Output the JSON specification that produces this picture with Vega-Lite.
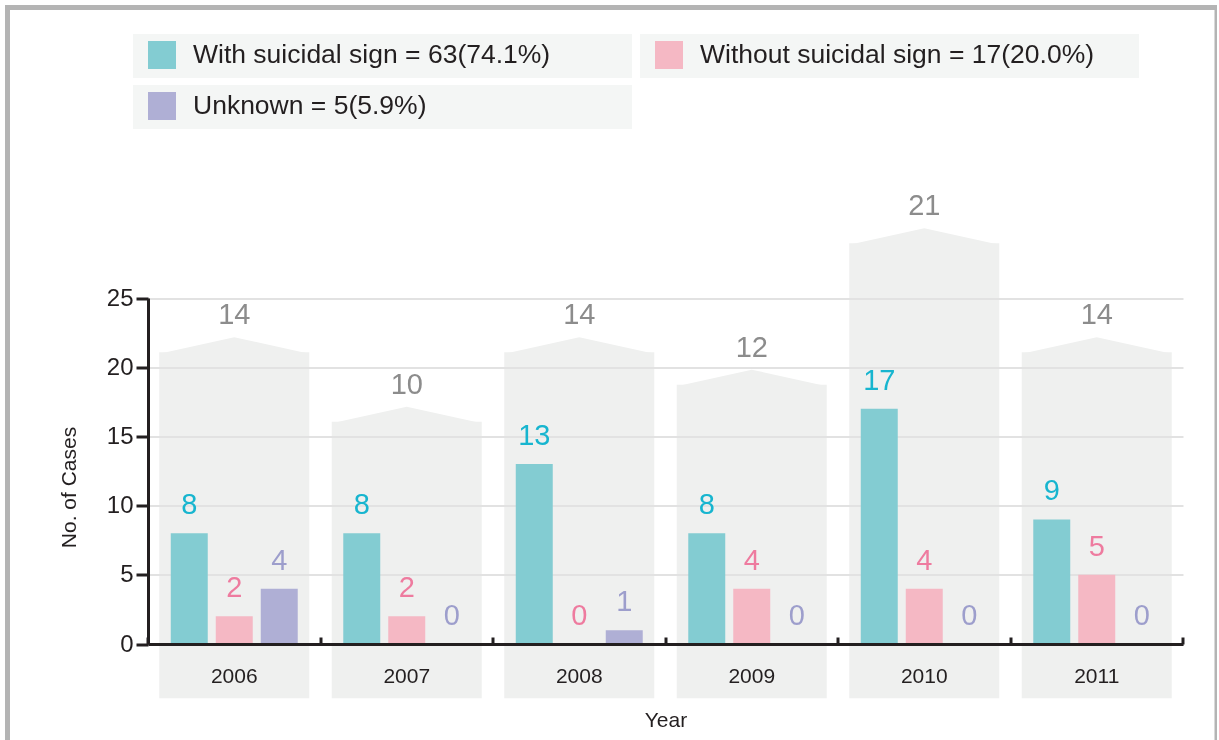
{
  "$schema": "https://vega.github.io/schema/vega-lite/v6.json",
  "width": 1209.5,
  "height": 740,
  "autosize": {"type": "none"},
  "padding": {"left": 7.5, "top": 7.5, "right": 0, "bottom": 0},
  "background": "white",
  "config": {
    "view": {"stroke": "#b4b4b4", "strokeWidth": 5, "fill": "white"},
    "font": "Liberation Sans"
  },
  "datasets": {
    "years": [
      {"year": "2006", "total": 14, "house": 21.08},
      {"year": "2007", "total": 10, "house": 16.06},
      {"year": "2008", "total": 14, "house": 21.08},
      {"year": "2009", "total": 12, "house": 18.74},
      {"year": "2010", "total": 21, "house": 28.95},
      {"year": "2011", "total": 14, "house": 21.08}
    ],
    "cases": [
      {"year": "2006", "sign": "With suicidal sign = 63(74.1%)", "count": 8},
      {"year": "2006", "sign": "Without suicidal sign = 17(20.0%)", "count": 2},
      {"year": "2006", "sign": "Unknown = 5(5.9%)", "count": 4},
      {"year": "2007", "sign": "With suicidal sign = 63(74.1%)", "count": 8},
      {"year": "2007", "sign": "Without suicidal sign = 17(20.0%)", "count": 2},
      {"year": "2007", "sign": "Unknown = 5(5.9%)", "count": 0},
      {"year": "2008", "sign": "With suicidal sign = 63(74.1%)", "count": 13},
      {"year": "2008", "sign": "Without suicidal sign = 17(20.0%)", "count": 0},
      {"year": "2008", "sign": "Unknown = 5(5.9%)", "count": 1},
      {"year": "2009", "sign": "With suicidal sign = 63(74.1%)", "count": 8},
      {"year": "2009", "sign": "Without suicidal sign = 17(20.0%)", "count": 4},
      {"year": "2009", "sign": "Unknown = 5(5.9%)", "count": 0},
      {"year": "2010", "sign": "With suicidal sign = 63(74.1%)", "count": 17},
      {"year": "2010", "sign": "Without suicidal sign = 17(20.0%)", "count": 4},
      {"year": "2010", "sign": "Unknown = 5(5.9%)", "count": 0},
      {"year": "2011", "sign": "With suicidal sign = 63(74.1%)", "count": 9},
      {"year": "2011", "sign": "Without suicidal sign = 17(20.0%)", "count": 5},
      {"year": "2011", "sign": "Unknown = 5(5.9%)", "count": 0}
    ]
  },
  "layer": [
    {
      "data": {"name": "years"},
      "mark": {"type": "bar", "color": "#eff0ef", "width": {"band": 0.8696}, "blend": "darken"},
      "encoding": {
        "x": {
          "field": "year",
          "type": "nominal",
          "scale": {"paddingInner": 0, "paddingOuter": 0, "range": [140.5, 1175.5]},
          "axis": {
            "title": "Year",
            "titleFontSize": 21,
            "titleFontWeight": "normal",
            "titleColor": "#231f20",
            "titleY": 82,
            "titleBaseline": "alphabetic",
            "labelFontSize": 21,
            "labelColor": "#231f20",
            "labelAngle": 0,
            "labelBaseline": "alphabetic",
            "labelPadding": 45,
            "bandPosition": 1,
            "tickExtra": true,
            "tickSize": -7,
            "tickWidth": 3,
            "tickColor": "#231f20",
            "domainColor": "#231f20",
            "domainWidth": 3,
            "grid": false,
            "offset": -103.5,
            "zindex": 1
          }
        },
        "y": {
          "field": "house",
          "type": "quantitative",
          "scale": {"domain": [0, 25], "nice": false, "zero": false, "range": [636.5, 290.5]},
          "axis": {
            "title": "No. of Cases",
            "titleFontSize": 21,
            "titleFontWeight": "normal",
            "titleColor": "#231f20",
            "titleX": -73,
            "titleY": 479.5,
            "titleBaseline": "alphabetic",
            "values": [0, 5, 10, 15, 20, 25],
            "labelFontSize": 24,
            "labelColor": "#231f20",
            "labelPadding": 3,
            "tickSize": 12,
            "tickWidth": 3,
            "tickColor": "#231f20",
            "domainColor": "#231f20",
            "domainWidth": 3,
            "grid": true,
            "gridColor": "#d9d9d9",
            "gridWidth": 1.5,
            "offset": -140.5,
            "zindex": 0
          }
        },
        "y2": {"datum": -3.92}
      }
    },
    {
      "data": {"name": "years"},
      "mark": {"type": "point", "shape": "M-1,0.02L0,-0.2L1,0.02Z", "size": 22500, "filled": true, "color": "#eff0ef", "opacity": 1, "strokeWidth": 0, "blend": "darken"},
      "encoding": {
        "x": {"field": "year", "type": "nominal"},
        "y": {"field": "house", "type": "quantitative"}
      }
    },
    {
      "data": {"name": "years"},
      "mark": {"type": "text", "fontSize": 29, "color": "#8c8c8c", "baseline": "alphabetic", "dy": -28},
      "encoding": {
        "x": {"field": "year", "type": "nominal"},
        "y": {"field": "house", "type": "quantitative"},
        "text": {"field": "total"}
      }
    },
    {
      "data": {"name": "cases"},
      "mark": {"type": "bar"},
      "encoding": {
        "x": {"field": "year", "type": "nominal"},
        "xOffset": {
          "field": "sign",
          "type": "nominal",
          "sort": ["With suicidal sign = 63(74.1%)", "Without suicidal sign = 17(20.0%)", "Unknown = 5(5.9%)"],
          "scale": {"paddingInner": 0.178, "paddingOuter": 0.506}
        },
        "y": {"field": "count", "type": "quantitative"},
        "color": {
          "field": "sign",
          "type": "nominal",
          "scale": {
            "domain": ["With suicidal sign = 63(74.1%)", "Without suicidal sign = 17(20.0%)", "Unknown = 5(5.9%)"],
            "range": ["#83ccd2", "#f5b8c4", "#afafd5"]
          },
          "legend": {
            "title": null,
            "orient": "none",
            "legendX": 140.5,
            "legendY": 33.5,
            "columns": 2,
            "direction": "horizontal",
            "columnPadding": 104,
            "rowPadding": 23,
            "padding": 0,
            "symbolType": "square",
            "symbolSize": 784,
            "symbolStrokeWidth": 0,
            "symbolOffset": 0,
            "symbolOpacity": 1,
            "labelFontSize": 26.5,
            "labelOffset": 17,
            "labelLimit": 700,
            "labelColor": "#231f20",
            "labelBaseline": "middle",
            "zindex": 2
          }
        }
      }
    },
    {
      "data": {"name": "cases"},
      "mark": {"type": "text", "fontSize": 29, "baseline": "alphabetic", "dy": -19},
      "encoding": {
        "x": {"field": "year", "type": "nominal"},
        "xOffset": {
          "field": "sign",
          "type": "nominal",
          "sort": ["With suicidal sign = 63(74.1%)", "Without suicidal sign = 17(20.0%)", "Unknown = 5(5.9%)"]
        },
        "y": {"field": "count", "type": "quantitative"},
        "fill": {
          "field": "sign",
          "type": "nominal",
          "scale": {
            "domain": ["With suicidal sign = 63(74.1%)", "Without suicidal sign = 17(20.0%)", "Unknown = 5(5.9%)"],
            "range": ["#17b5cf", "#ee7b9f", "#9d9ecc"]
          },
          "legend": null
        },
        "opacity": {
          "field": "sign",
          "type": "nominal",
          "scale": {
            "domain": ["Unknown = 5(5.9%)", "With suicidal sign = 63(74.1%)", "Without suicidal sign = 17(20.0%)"],
            "range": [1, 1]
          },
          "legend": {
            "title": null,
            "orient": "none",
            "legendX": 125.5,
            "legendY": 26.5,
            "columns": 2,
            "direction": "horizontal",
            "columnPadding": 6,
            "rowPadding": 7,
            "padding": 0,
            "symbolType": "M-11.341,-1H11.341V1H-11.341Z",
            "symbolSize": 1936,
            "symbolStrokeWidth": 0,
            "symbolFillColor": "#f4f6f5",
            "symbolOffset": 227.5,
            "labelExpr": "''",
            "labelFontSize": 1,
            "labelOffset": 0,
            "zindex": 1
          }
        },
        "text": {"field": "count"}
      }
    }
  ]
}
